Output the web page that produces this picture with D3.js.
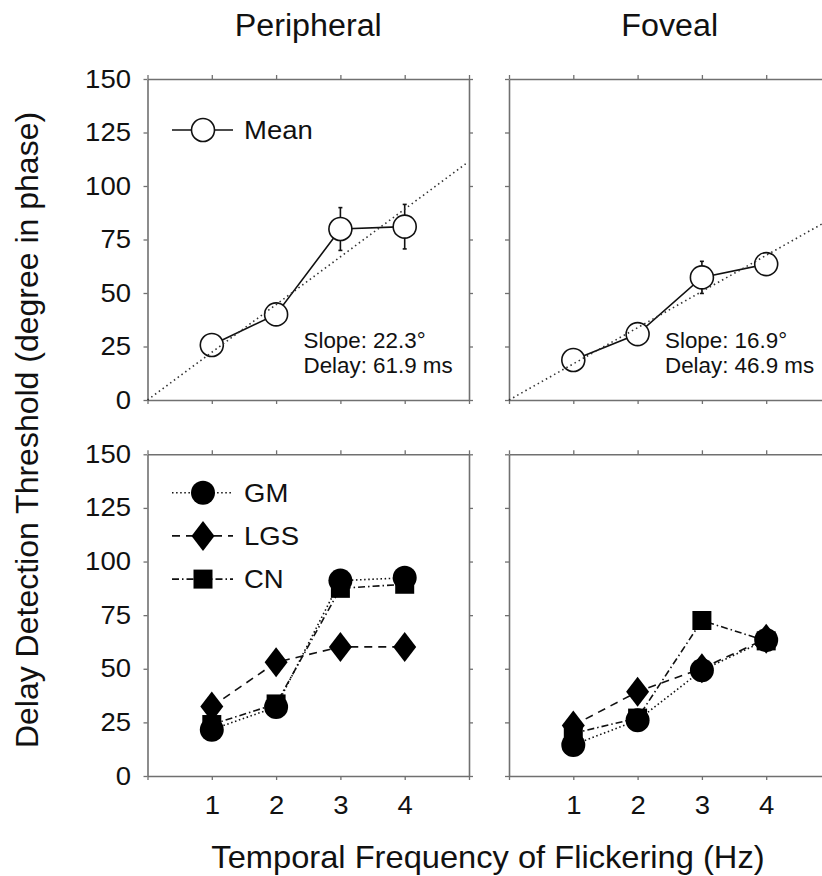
<!DOCTYPE html>
<html>
<head>
<meta charset="utf-8">
<title>Delay Detection Threshold</title>
<script src="https://cdn.jsdelivr.net/npm/d3@7"></script>
<style>
    body { margin: 0; background: #fff; }
    svg { display: block; font-family: "Liberation Sans", Arial, Helvetica, sans-serif; }
</style>
</head>
<body>
<svg id="chart" width="822" height="876"></svg>
<script>
// ---------- data ----------
const freqs = [1, 2, 3, 4];
const xTicks = [0, 1, 2, 3, 4, 5];
const xTickLabels = ['', '1', '2', '3', '4', ''];
const yTicks = [0, 25, 50, 75, 100, 125, 150];
const panelTitles = ['Peripheral', 'Foveal'];

// top row: group mean +- error
const periMean = [25.7, 40.0, 79.9, 81.0];
const periErr = [3, 4.5, 10, 10.4];
const fovMean = [18.7, 30.8, 57.3, 63.5];
const fovErr = [2, 3, 7.5, 2];

// linear fit through the origin (deg / Hz)
const periSlope = 22.3;
const fovSlope = 16.9;
const fitRange = [0, 4.95];
const periNote = ['Slope: 22.3°', 'Delay: 61.9 ms'];
const fovNote = ['Slope: 16.9°', 'Delay: 46.9 ms'];

// bottom row: single observers
const observers = ['GM', 'LGS', 'CN'];
const periGM = [21.6, 32.2, 91.1, 92.4];
const periLGS = [32.4, 53.0, 60.2, 60.2];
const periCN = [24.0, 33.6, 87.5, 89.4];
const fovGM = [14.5, 26.0, 49.3, 63.4];
const fovLGS = [23.6, 39.3, 50.2, 64.0];
const fovCN = [19.9, 27.0, 72.5, 63.0];

// ---------- layout ----------
const svg = d3.select('#chart');
const colX = [[147.5, 469], [509, 830.5]];
const rowY = [[400, 79], [776, 454.3]];
const axisColor = '#707070';
const tickLen = 4;

// styles per observer
const obsStyle = {
    GM: { dash: '1.5,2.6', shape: 'circle' },
    LGS: { dash: '8,6', shape: 'diamond' },
    CN: { dash: '7,3,1.5,3', shape: 'square' },
};

// the original lettering runs a bit wider than Liberation Sans
function widen(sel, k) {
    sel.each(function () {
        const len = this.getComputedTextLength();
        if (len > 0) d3.select(this).attr('textLength', len * k).attr('lengthAdjust', 'spacingAndGlyphs');
    });
}

function scalesFor(col, row) {
    return {
        x: d3.scaleLinear().domain([0, 5]).range(colX[col]),
        y: d3.scaleLinear().domain([0, 150]).range(rowY[row]),
    };
}

function markerPath(shape) {
    const p = d3.path();
    if (shape === 'circle') {
        p.arc(0, 0, 12, 0, 2 * Math.PI);
    } else if (shape === 'diamond') {
        p.moveTo(0, -15);
        p.lineTo(11.5, 0);
        p.lineTo(0, 15);
        p.lineTo(-11.5, 0);
        p.closePath();
    } else {
        p.rect(-9.5, -9.5, 19, 19);
    }
    return p.toString();
}

// box with outward ticks on all four sides
function drawFrame(g, sc, showX, showY) {
    const sides = [
        { axis: d3.axisBottom(sc.x).tickValues(xTicks), at: `translate(0,${sc.y(0)})`, labels: showX },
        { axis: d3.axisTop(sc.x).tickValues(xTicks), at: `translate(0,${sc.y(150)})`, labels: false },
        { axis: d3.axisLeft(sc.y).tickValues(yTicks), at: `translate(${sc.x(0)},0)`, labels: showY },
        { axis: d3.axisRight(sc.y).tickValues(yTicks), at: `translate(${sc.x(5)},0)`, labels: false },
    ];
    sides.forEach((s, k) => {
        s.axis.tickSize(tickLen).tickSizeOuter(0);
        if (k === 0) s.axis.tickPadding(16).tickFormat((d, i) => (s.labels ? xTickLabels[i] : ''));
        else if (k === 2) s.axis.tickPadding(12.5).tickFormat((d) => (s.labels ? d : ''));
        else s.axis.tickFormat('');

        const a = g.append('g').attr('transform', s.at).call(s.axis);
        a.attr('font-family', null).attr('font-size', null);
        a.select('.domain').attr('stroke', axisColor).attr('stroke-width', 1.6);
        a.selectAll('.tick line').attr('stroke', axisColor).attr('stroke-width', 1.3);
        a.selectAll('.tick text').attr('fill', '#111').attr('font-size', 25).call(widen, 1.1);
    });
}

function drawMeanPanel(col, mean, err, slope, note, withLegend) {
    const sc = scalesFor(col, 0);
    const g = svg.append('g');
    drawFrame(g, sc, false, col === 0);

    const line = d3
        .line()
        .x((d, i) => sc.x(freqs[i]))
        .y((d) => sc.y(d));

    g.append('path').attr('d', line(mean)).attr('fill', 'none').attr('stroke', '#111').attr('stroke-width', 1.6);

    // error bars (behind the open circles)
    const bars = g.selectAll('.err').data(mean).join('g').attr('class', 'err');
    bars.append('line')
        .attr('x1', (d, i) => sc.x(freqs[i]))
        .attr('x2', (d, i) => sc.x(freqs[i]))
        .attr('y1', (d, i) => sc.y(d - err[i]))
        .attr('y2', (d, i) => sc.y(d + err[i]));
    [1, -1].forEach((sign) => {
        bars.append('line')
            .attr('x1', (d, i) => sc.x(freqs[i]) - 2)
            .attr('x2', (d, i) => sc.x(freqs[i]) + 2)
            .attr('y1', (d, i) => sc.y(d + sign * err[i]))
            .attr('y2', (d, i) => sc.y(d + sign * err[i]));
    });
    bars.selectAll('line').attr('stroke', '#111').attr('stroke-width', 1.6);

    g.selectAll('.mean-pt')
        .data(mean)
        .join('circle')
        .attr('class', 'mean-pt')
        .attr('cx', (d, i) => sc.x(freqs[i]))
        .attr('cy', (d) => sc.y(d))
        .attr('r', 11.5)
        .attr('fill', '#fff')
        .attr('stroke', '#111')
        .attr('stroke-width', 1.6);

    // dotted fit line is drawn over the circles
    const fit = d3
        .line()
        .x((f) => sc.x(f))
        .y((f) => sc.y(slope * f));
    g.append('path')
        .attr('d', fit(fitRange))
        .attr('fill', 'none')
        .attr('stroke', '#333')
        .attr('stroke-width', 1.6)
        .attr('stroke-dasharray', '1.5,3.2');

    const left = colX[col][0];
    g.selectAll('.note')
        .data(note)
        .join('text')
        .attr('class', 'note')
        .attr('x', left + 156)
        .attr('y', (d, i) => 348 + i * 25)
        .attr('font-size', 21.5)
        .attr('fill', '#111')
        .text((d) => d)
        .call(widen, 1.04);

    if (withLegend) {
        const ly = rowY[0][1] + 51;
        g.append('line').attr('x1', left + 24.5).attr('x2', left + 85.5).attr('y1', ly).attr('y2', ly).attr('stroke', '#111').attr('stroke-width', 1.6);
        g.append('circle').attr('cx', left + 55.5).attr('cy', ly).attr('r', 11.5).attr('fill', '#fff').attr('stroke', '#111').attr('stroke-width', 1.6);
        g.append('text').attr('x', left + 96.5).attr('y', ly + 8.5).attr('font-size', 25).attr('fill', '#111').text('Mean').call(widen, 1.1);
    }
}

function drawObserverPanel(col, series, withLegend) {
    const sc = scalesFor(col, 1);
    const g = svg.append('g');
    drawFrame(g, sc, true, col === 0);

    const line = d3
        .line()
        .x((d, i) => sc.x(freqs[i]))
        .y((d) => sc.y(d));

    observers.forEach((name, k) => {
        g.append('path')
            .attr('d', line(series[k]))
            .attr('fill', 'none')
            .attr('stroke', '#111')
            .attr('stroke-width', 1.6)
            .attr('stroke-dasharray', obsStyle[name].dash);
    });
    observers.forEach((name, k) => {
        g.selectAll(`.pt-${name}`)
            .data(series[k])
            .join('path')
            .attr('class', `pt-${name}`)
            .attr('d', markerPath(obsStyle[name].shape))
            .attr('transform', (d, i) => `translate(${sc.x(freqs[i])},${sc.y(d)})`)
            .attr('fill', '#000');
    });

    if (withLegend) {
        const left = colX[col][0];
        const top = rowY[1][1];
        observers.forEach((name, k) => {
            const ly = top + 38.4 + k * 43.2;
            g.append('line')
                .attr('x1', left + 24.5)
                .attr('x2', left + 85.5)
                .attr('y1', ly)
                .attr('y2', ly)
                .attr('stroke', '#111')
                .attr('stroke-width', 1.6)
                .attr('stroke-dasharray', obsStyle[name].dash);
            g.append('path')
                .attr('d', markerPath(obsStyle[name].shape))
                .attr('transform', `translate(${left + 55.5},${ly})`)
                .attr('fill', '#000');
            g.append('text').attr('x', left + 96.5).attr('y', ly + 9).attr('font-size', 25).attr('fill', '#111').text(name).call(widen, 1.1);
        });
    }
}

drawMeanPanel(0, periMean, periErr, periSlope, periNote, true);
drawMeanPanel(1, fovMean, fovErr, fovSlope, fovNote, false);
drawObserverPanel(0, [periGM, periLGS, periCN], true);
drawObserverPanel(1, [fovGM, fovLGS, fovCN], false);

// titles and axis labels
svg.selectAll('.title')
    .data(panelTitles)
    .join('text')
    .attr('class', 'title')
    .attr('x', (d, i) => (colX[i][0] + colX[i][1]) / 2)
    .attr('y', 36)
    .attr('text-anchor', 'middle')
    .attr('font-size', 31)
    .attr('fill', '#111')
    .text((d) => d)
    .call(widen, 1.04);

svg.append('text')
    .attr('x', 488)
    .attr('y', 868)
    .attr('text-anchor', 'middle')
    .attr('font-size', 32)
    .attr('fill', '#111')
    .text('Temporal Frequency of Flickering (Hz)')
    .call(widen, 1.02);

svg.append('text')
    .attr('transform', 'translate(38,430) rotate(-90)')
    .attr('text-anchor', 'middle')
    .attr('font-size', 32)
    .attr('fill', '#111')
    .text('Delay Detection Threshold (degree in phase)');
</script>
</body>
</html>
